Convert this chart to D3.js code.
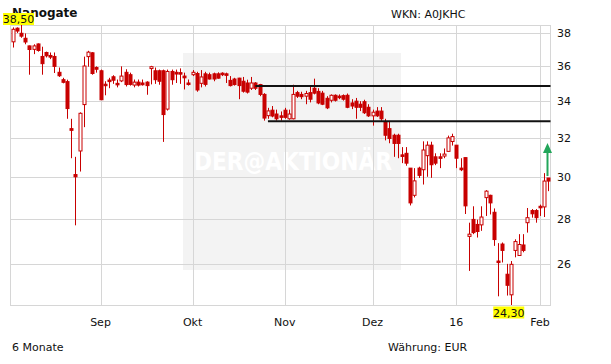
<!DOCTYPE html>
<html>
<head>
<meta charset="utf-8">
<script src="https://cdn.jsdelivr.net/npm/d3@7"></script>
<style>
  html, body { margin: 0; padding: 0; background: #fff; }
  svg { display: block; font-family: 'DejaVu Sans', Verdana, sans-serif; }
</style>
</head>
<body>
<svg id="chart" width="611" height="364"></svg>
<script>
// daily candles, Aug 2015 - Feb 2016 (trading days)
const open = [
  37.45, 38.30, 37.98, 37.67, 37.20, 36.99, 37.32, 36.56, 36.80, 36.62,
  36.56, 35.62, 35.19, 35.08, 32.47, 30.11, 31.30, 33.78, 36.55, 36.78,
  35.90, 35.71, 34.93, 35.17, 35.36, 34.98, 35.12, 35.62, 35.48, 34.88,
  35.05, 35.00, 35.05, 35.84, 35.71, 35.71, 35.71, 33.53, 35.67, 35.62,
  35.60, 35.40, 35.00, 35.48, 35.55, 34.98, 35.53, 35.48, 35.53, 35.53,
  35.57, 35.53, 35.15, 35.23, 35.28, 35.10, 35.00, 34.70, 35.00, 34.91,
  34.35, 33.17, 33.47, 33.26, 33.16, 33.47, 33.00, 33.00, 34.45, 34.35,
  34.25, 34.45, 34.70, 34.52, 34.42, 34.13, 34.02, 34.30, 34.25, 34.28,
  34.30, 33.87, 33.97, 33.80, 33.94, 33.63, 33.16, 33.42, 33.42, 32.80,
  32.47, 32.12, 32.12, 31.10, 31.18, 30.43, 29.10, 30.43, 30.35, 31.06,
  31.60, 31.00, 31.00, 31.04, 31.28, 31.79, 31.60, 30.43, 30.96, 27.20,
  27.97, 27.74, 27.72, 28.99, 29.10, 28.30, 26.12, 26.86, 25.56, 24.71,
  26.58, 26.36, 26.82, 27.82, 28.38, 28.38, 28.58, 28.55, 29.94
]
const high = [
  38.35, 38.35, 38.50, 37.97, 37.22, 37.30, 37.35, 37.15, 36.85, 36.80,
  36.80, 35.90, 35.30, 35.19, 33.00, 31.00, 33.35, 36.55, 36.90, 36.82,
  35.97, 35.78, 35.10, 35.30, 35.45, 35.20, 35.97, 35.80, 35.60, 35.20,
  35.20, 35.20, 35.10, 36.00, 35.90, 35.78, 35.78, 35.78, 35.78, 35.78,
  35.85, 35.60, 35.20, 35.75, 35.65, 35.75, 35.65, 35.60, 35.60, 35.62,
  35.62, 35.60, 35.40, 35.30, 35.30, 35.35, 35.19, 35.35, 35.05, 34.95,
  34.42, 33.60, 33.70, 33.50, 33.40, 33.60, 33.50, 34.90, 34.55, 34.50,
  34.55, 34.85, 35.25, 34.70, 34.55, 34.25, 34.35, 34.35, 34.35, 34.35,
  34.40, 34.08, 34.15, 33.97, 34.05, 33.80, 33.50, 33.64, 33.64, 33.00,
  32.85, 32.20, 32.20, 31.50, 31.50, 30.43, 30.43, 30.50, 31.80, 31.80,
  31.78, 31.18, 31.18, 31.43, 32.10, 32.20, 31.60, 30.93, 30.96, 27.82,
  28.58, 27.96, 28.58, 29.35, 29.13, 28.48, 26.90, 26.93, 26.00, 26.12,
  27.07, 27.30, 27.30, 28.50, 28.45, 28.45, 28.66, 30.18, 29.94
]
const low = [
  37.10, 38.00, 37.70, 37.30, 35.48, 36.70, 36.85, 35.48, 36.50, 36.40,
  35.58, 35.35, 34.98, 33.00, 30.93, 27.70, 30.26, 32.55, 35.95, 35.48,
  35.60, 34.03, 34.30, 34.70, 34.95, 34.75, 35.05, 34.80, 34.85, 34.75,
  34.80, 34.85, 34.33, 34.92, 34.95, 34.90, 31.77, 33.45, 34.90, 35.00,
  34.95, 34.63, 34.85, 35.40, 34.50, 34.75, 34.80, 35.20, 35.10, 35.25,
  35.40, 35.00, 34.80, 34.85, 34.08, 34.45, 34.40, 34.60, 34.60, 34.25,
  32.90, 33.00, 33.08, 32.90, 32.90, 33.00, 32.95, 32.97, 34.15, 34.08,
  33.80, 33.90, 34.35, 33.80, 33.75, 33.53, 33.90, 33.95, 34.08, 34.00,
  33.58, 33.53, 33.00, 33.42, 33.26, 33.10, 32.63, 33.10, 32.89, 31.85,
  31.70, 31.00, 30.93, 30.68, 30.55, 28.62, 29.00, 29.94, 29.62, 30.00,
  29.95, 30.58, 30.43, 30.93, 31.28, 31.58, 30.43, 30.28, 28.22, 25.70,
  27.30, 27.15, 27.45, 28.13, 28.20, 26.78, 24.65, 26.06, 24.68, 24.30,
  26.28, 26.36, 26.50, 27.37, 28.05, 27.82, 28.13, 28.08, 29.30
]
const close = [
  38.23, 38.12, 37.80, 37.44, 36.98, 37.20, 36.92, 36.13, 36.60, 36.52,
  35.97, 35.42, 35.04, 33.56, 32.38, 30.00, 33.30, 35.99, 36.82, 35.55,
  35.80, 34.05, 34.88, 35.08, 35.16, 34.92, 35.40, 34.91, 34.92, 35.05,
  34.88, 34.90, 34.85, 35.95, 35.19, 35.10, 33.23, 35.67, 35.19, 35.52,
  35.55, 35.30, 34.92, 35.62, 34.60, 35.35, 34.92, 35.23, 35.23, 35.28,
  35.48, 35.46, 34.85, 34.91, 34.85, 34.53, 34.48, 35.00, 34.70, 34.35,
  33.04, 33.43, 33.15, 33.00, 33.08, 33.08, 33.26, 34.35, 34.25, 34.22,
  34.40, 34.08, 34.42, 33.87, 33.80, 33.60, 34.30, 34.02, 34.18, 34.08,
  33.63, 33.70, 33.63, 33.63, 33.33, 33.16, 33.36, 33.16, 33.00, 32.12,
  31.95, 31.69, 31.69, 31.02, 30.68, 28.74, 29.80, 30.07, 31.35, 31.60,
  30.60, 30.68, 30.93, 31.14, 31.98, 32.05, 30.93, 30.35, 28.60, 27.30,
  27.37, 27.42, 28.08, 29.30, 28.74, 27.06, 26.06, 26.58, 25.10, 25.98,
  26.97, 26.84, 26.58, 28.05, 28.23, 28.05, 28.51, 29.79, 29.79
]

// x axis: index of first trading day of each month
const monthIdx    = [21, 43, 65, 86, 106, 126]
const monthLabels = ['Sep', 'Okt', 'Nov', 'Dez', '16', 'Feb']
const yTicks = [26, 28, 30, 32, 34, 36, 38]

// horizontal support / resistance lines: [value, start index]
const levels = [[34.83, 58], [32.87, 61]]

const candles = open.map((o, i) => ({ i, o, h: high[i], l: low[i], c: close[i] }))

const fmt = v => d3.format('.2f')(v).replace('.', ',')

const L = 10.5, R = 550.5, T = 25, B = 305

const x = d3.scaleBand().domain(d3.range(candles.length)).range([L, R])
const cx = i => x(i) + x.bandwidth() / 2
const y = d3.scaleLog()
  .domain([d3.min(low), d3.max(high)])
  .range([B, T])

const svg = d3.select('#chart')

// watermark block
const wm = svg.append('g')
wm.append('rect')
  .attr('x', 183).attr('y', 53).attr('width', 218).attr('height', 217)
  .attr('fill', '#f3f3f3')
wm.append('text')
  .attr('x', 194).attr('y', 170)
  .attr('fill', '#ffffff')
  .attr('font-family', "'DejaVu Sans Condensed', 'DejaVu Sans', sans-serif")
  .attr('font-weight', 'bold')
  .attr('font-size', 25)
  .attr('textLength', 198)
  .attr('lengthAdjust', 'spacingAndGlyphs')
  .text('DER@AKTIONÄR')

// grid
const grid = svg.append('g').attr('stroke', '#d6d6d6').attr('stroke-width', 1)
grid.selectAll('line.h')
  .data(yTicks).join('line')
  .attr('class', 'h')
  .attr('x1', L).attr('x2', R)
  .attr('y1', d => Math.round(y(d)) + 0.5).attr('y2', d => Math.round(y(d)) + 0.5)
grid.selectAll('line.v')
  .data(monthIdx).join('line')
  .attr('class', 'v')
  .attr('x1', d => Math.round(cx(d)) + 0.5).attr('x2', d => Math.round(cx(d)) + 0.5)
  .attr('y1', T).attr('y2', B)
grid.append('rect')
  .attr('x', L).attr('y', T + 0.5).attr('width', R - L).attr('height', B - T)
  .attr('fill', 'none')

// y labels
svg.append('g').selectAll('text')
  .data(yTicks).join('text')
  .attr('x', 557).attr('y', d => y(d) + 4)
  .attr('font-size', 11).attr('fill', '#111')
  .text(d => d)

// x labels
svg.append('g').selectAll('text')
  .data(monthIdx).join('text')
  .attr('x', d => cx(d)).attr('y', 326)
  .attr('text-anchor', 'middle')
  .attr('font-size', 11).attr('fill', '#111')
  .text((d, k) => monthLabels[k])

// candles
const red = '#c80000'
const cg = svg.append('g')
cg.selectAll('line')
  .data(candles).join('line')
  .attr('x1', d => Math.round(cx(d.i)) + 0.5).attr('x2', d => Math.round(cx(d.i)) + 0.5)
  .attr('y1', d => y(d.h)).attr('y2', d => y(d.l))
  .attr('stroke', red).attr('stroke-width', 1)
cg.selectAll('rect')
  .data(candles).join('rect')
  .attr('x', d => Math.round(cx(d.i)) - 1)
  .attr('y', d => y(Math.max(d.o, d.c)))
  .attr('width', 3)
  .attr('height', d => Math.max(1.5, Math.abs(y(d.o) - y(d.c))))
  .attr('fill', d => d.c > d.o ? '#fff' : red)
  .attr('stroke', red).attr('stroke-width', 1)

// support / resistance lines
svg.append('g').selectAll('line')
  .data(levels).join('line')
  .attr('x1', d => cx(d[1])).attr('x2', R)
  .attr('y1', d => y(d[0])).attr('y2', d => y(d[0]))
  .attr('stroke', '#111').attr('stroke-width', 2)

// green arrow at last candle
const ax = 547.5, ay0 = y(close[close.length - 1]) - 5, ay1 = ay0 - 33
svg.append('line')
  .attr('x1', ax).attr('x2', ax).attr('y1', ay0).attr('y2', ay1 + 8)
  .attr('stroke', '#22a65a').attr('stroke-width', 2)
svg.append('path')
  .attr('d', `M${ax - 4.5},${ay1 + 10}L${ax},${ay1}L${ax + 4.5},${ay1 + 10}Z`)
  .attr('fill', '#22a65a')

// titles
svg.append('text')
  .attr('x', 12).attr('y', 17)
  .attr('font-size', 12).attr('font-weight', 'bold').attr('fill', '#111')
  .text('Nanogate')
svg.append('text')
  .attr('x', 391).attr('y', 18)
  .attr('font-size', 11).attr('fill', '#111')
  .text('WKN: A0JKHC')
svg.append('text')
  .attr('x', 12).attr('y', 351)
  .attr('font-size', 11).attr('fill', '#111')
  .text('6 Monate')
svg.append('text')
  .attr('x', 388).attr('y', 351)
  .attr('font-size', 11).attr('fill', '#111')
  .text('Währung: EUR')

// high / low markers
const hiIdx = d3.maxIndex(high), loIdx = d3.minIndex(low)
const marks = [
  { v: high[hiIdx], x: 18.5, y: 13 },
  { v: low[loIdx], x: cx(loIdx) - 2, y: 306.5 }
]
const mg = svg.append('g').selectAll('g')
  .data(marks).join('g')
mg.append('rect')
  .attr('x', d => d.x - 15.5).attr('y', d => d.y)
  .attr('width', 31).attr('height', 12)
  .attr('fill', '#ffff00')
mg.append('text')
  .attr('x', d => d.x).attr('y', d => d.y + 10)
  .attr('text-anchor', 'middle')
  .attr('font-size', 11).attr('fill', '#111')
  .text(d => fmt(d.v))
</script>
</body>
</html>
